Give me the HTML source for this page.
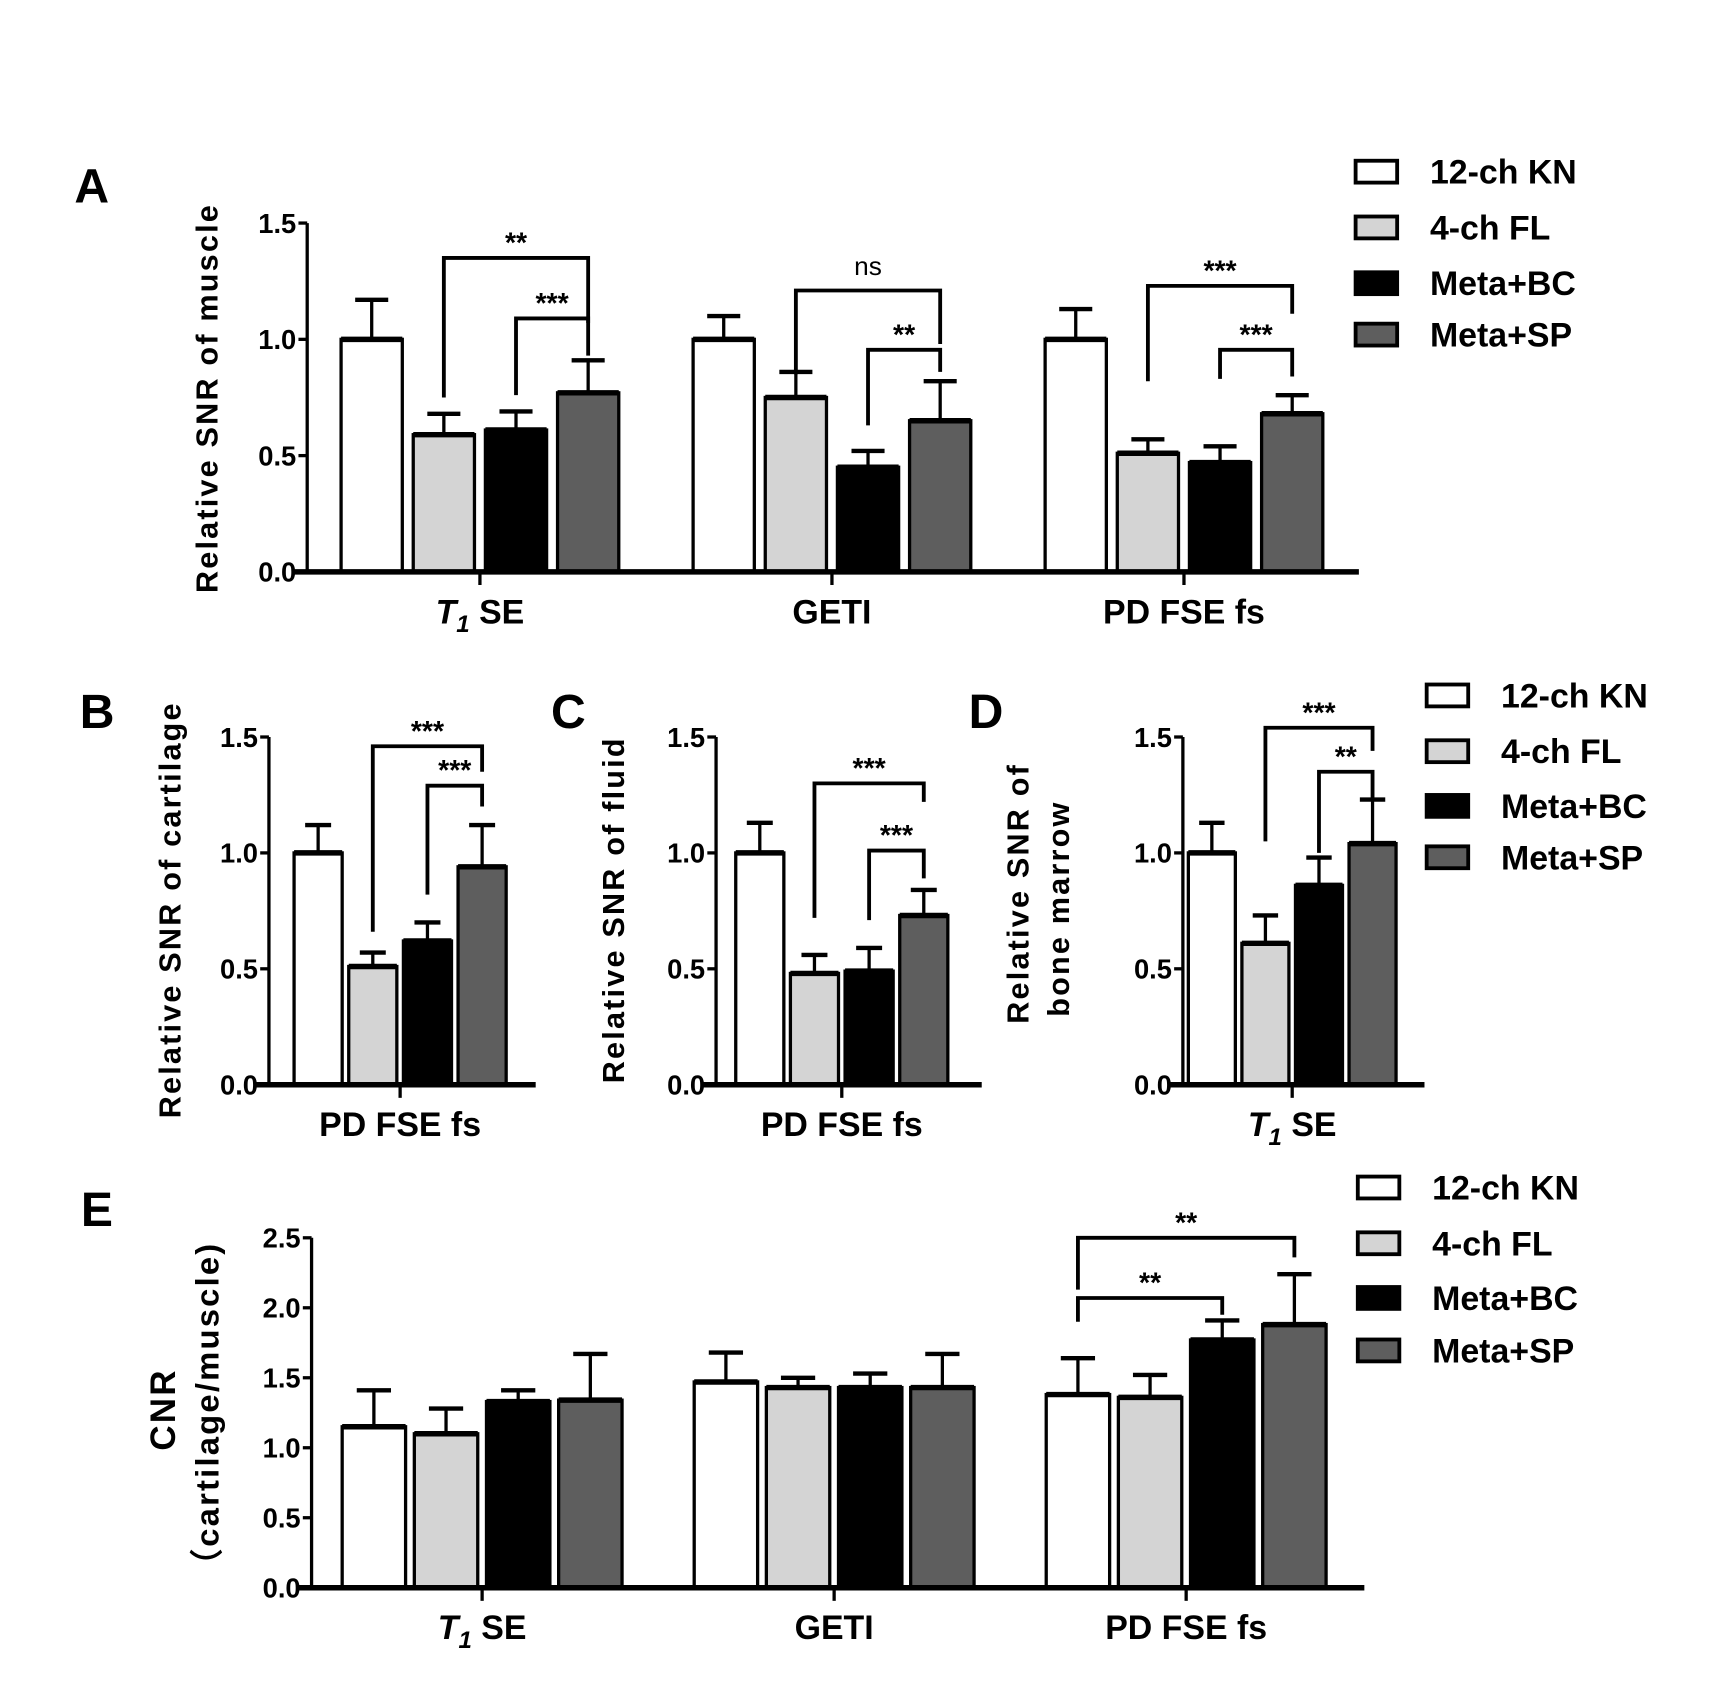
<!DOCTYPE html>
<html><head><meta charset="utf-8"><style>
html,body{margin:0;padding:0;background:#fff;}
svg{display:block;font-family:"Liberation Sans",Arial,sans-serif;font-weight:bold;}
</style></head><body>
<svg id="fig" width="1712" height="1708" viewBox="2 1 1566 1562" preserveAspectRatio="none" xmlns="http://www.w3.org/2000/svg">
<g id="root"></g>
</svg>
<script>
// ---- data ----
const seriesNames = ["12-ch KN","4-ch FL","Meta+BC","Meta+SP"];
const seriesFill = ["#ffffff","#d4d4d4","#000000","#5e5e5e"];
const groupsA = ["T1SE","GETI","PD FSE fs"];
const meanA = [[1.0,0.59,0.61,0.77],[1.0,0.75,0.45,0.65],[1.0,0.51,0.47,0.68]];
const errA = [[1.17,0.68,0.69,0.91],[1.10,0.86,0.52,0.82],[1.13,0.57,0.54,0.76]];
const brA = [[0,1,3,1.35,0.75,1.07,"**"],[0,2,3,1.09,0.76,0.93,"***"],[1,1,3,1.21,0.85,0.98,"ns"],[1,2,3,0.955,0.63,0.86,"**"],[2,1,3,1.23,0.82,1.11,"***"],[2,2,3,0.955,0.83,0.84,"***"]];
const groupsB = ["PD FSE fs"];
const meanB = [[1.0,0.51,0.62,0.94]];
const errB = [[1.12,0.57,0.70,1.12]];
const brB = [[0,1,3,1.46,0.66,1.35,"***"],[0,2,3,1.29,0.82,1.20,"***"]];
const groupsC = ["PD FSE fs"];
const meanC = [[1.0,0.48,0.49,0.73]];
const errC = [[1.13,0.56,0.59,0.84]];
const brC = [[0,1,3,1.30,0.72,1.22,"***"],[0,2,3,1.01,0.71,0.89,"***"]];
const groupsD = ["T1SE"];
const meanD = [[1.0,0.61,0.86,1.04]];
const errD = [[1.13,0.73,0.98,1.23]];
const brD = [[0,1,3,1.54,1.05,1.44,"***"],[0,2,3,1.35,1.00,1.23,"**"]];
const groupsE = ["T1SE","GETI","PD FSE fs"];
const meanE = [[1.15,1.10,1.33,1.34],[1.47,1.43,1.43,1.43],[1.38,1.36,1.77,1.88]];
const errE = [[1.41,1.28,1.41,1.67],[1.68,1.50,1.53,1.67],[1.64,1.52,1.91,2.24]];
const brE = [[2,0,3,2.5,2.13,2.36,"**"],[2,0,2,2.07,1.90,1.95,"**"]];
const ticks15 = [0.0,0.5,1.0,1.5];
const ticks25 = [0.0,0.5,1.0,1.5,2.0,2.5];

const NS="http://www.w3.org/2000/svg";
const root=document.getElementById('root');
function mk(tag,attrs,parent){const e=document.createElementNS(NS,tag);for(const k in attrs)e.setAttribute(k,attrs[k]);(parent||root).appendChild(e);return e;}

function catLabel(g,x,y,txt){
  const t=mk('text',{x:x,y:y,'text-anchor':'middle','font-size':31},g);
  
  
  if(txt==="T1SE"){
    const a=mk('tspan',{'font-style':'italic'},t);a.textContent="T";
    const b=mk('tspan',{'font-style':'italic','font-size':22,dy:8},t);b.textContent="1";
    const c=mk('tspan',{dy:-8},t);c.textContent=" SE";
  } else t.textContent=txt;
}

function panel(o){
  const g=mk('g',{});
  
  
  const yS=v=>o.y0-(v/o.ymax)*(o.y0-o.ytop);
  const xC=(gi,si)=>o.c0+gi*o.gs+(si-1.5)*o.bs;
  o.groups.forEach((gn,gi)=>{
    for(let si=0;si<4;si++){
      const x=xC(gi,si), v=o.mean[gi][si], e=o.err[gi][si];
      const eb=mk('line',{x1:x,x2:x,y1:yS(v),y2:yS(e),stroke:'#000','stroke-width':3},g);
      
      
      const cap=mk('line',{x1:x-o.bw*0.27,x2:x+o.bw*0.27,y1:yS(e),y2:yS(e),stroke:'#000','stroke-width':4},g);
      
      
      const r=mk('rect',{x:x-o.bw/2,y:yS(v),width:o.bw,height:yS(0)-yS(v),fill:seriesFill[si],stroke:'#000','stroke-width':3},g);
      
      
      const topl=mk('line',{x1:x-o.bw/2,x2:x+o.bw/2,y1:yS(v),y2:yS(v),stroke:'#000','stroke-width':5},g);
      
      
    }
    const tk=mk('line',{x1:o.c0+gi*o.gs,x2:o.c0+gi*o.gs,y1:o.y0,y2:o.y0+12,stroke:'#000','stroke-width':3},g);
    
    
    catLabel(g,o.c0+gi*o.gs,o.y0+47,gn);
  });
  const ya=mk('line',{x1:o.ax,x2:o.ax,y1:o.ytop,y2:o.y0,stroke:'#000','stroke-width':3},g);
  
  
  const xa=mk('line',{x1:o.ax-13,x2:o.xend,y1:o.y0,y2:o.y0,stroke:'#000','stroke-width':5},g);
  
  
  o.ticks.forEach(t=>{
    const l=mk('line',{x1:o.ax-8,x2:o.ax,y1:yS(t),y2:yS(t),stroke:'#000','stroke-width':3},g);
    
    
    const tx=mk('text',{x:o.ax-10,y:yS(t)+9,'text-anchor':'end','font-size':25},g);
    
    
    tx.textContent=t.toFixed(1);
  });
  o.br.forEach(b=>{
    const x1=xC(b[0],b[1]), x2=xC(b[0],b[2]), y=yS(b[3]);
    const p=mk('path',{d:`M${x1},${yS(b[4])}V${y}H${x2}V${yS(b[5])}`,fill:'none',stroke:'#000','stroke-width':3.5},g);
    
    
    const t=mk('text',{x:(x1+x2)/2,y:b[6]==="ns"?y-14:y-5,'text-anchor':'middle','font-size':b[6]==="ns"?24:26,'font-weight':b[6]==="ns"?'normal':'bold'},g);
    
    
    t.textContent=b[6];
  });
  o.ytitle.forEach(line=>{
    const t=mk('text',{x:0,y:0,'text-anchor':'middle','font-size':line[3]||28,transform:`translate(${line[1]},${line[2]}) rotate(-90)`},g);
    
    
    t.setAttribute('letter-spacing','2');
    t.textContent=line[0];
  });
  const pl=mk('text',{x:o.lab[0],y:o.lab[1],'font-size':44},g);
  
  
  pl.textContent=o.lab[2];
}

function legend(x,ys,name){
  const g=mk('g',{});
  
  
  seriesNames.forEach((n,i)=>{
    const r=mk('rect',{x:x,y:ys[i]-10,width:38,height:20,fill:seriesFill[i],stroke:'#000','stroke-width':3.5},g);
    
    
    const t=mk('text',{x:x+68,y:ys[i]+11,'font-size':31},g);
    
    
    t.textContent=n;
  });
}

panel({name:'panel-a',groups:groupsA,mean:meanA,err:errA,br:brA,ticks:ticks15,ymax:1.5,y0:524,ytop:205,ax:283,xend:1245,c0:441,gs:322,bs:66,bw:56,
  ytitle:[["Relative SNR of muscle",201,365,28]],lab:[70,186,"A"]});
panel({name:'panel-b',groups:groupsB,mean:meanB,err:errB,br:brB,ticks:ticks15,ymax:1.5,y0:993,ytop:675,ax:248,xend:492,c0:368,gs:0,bs:50,bw:44,
  ytitle:[["Relative SNR of cartilage",167,833,28]],lab:[75,667,"B"]});
panel({name:'panel-c',groups:groupsC,mean:meanC,err:errC,br:brC,ticks:ticks15,ymax:1.5,y0:993,ytop:675,ax:657,xend:900,c0:772,gs:0,bs:50,bw:44,
  ytitle:[["Relative SNR of fluid",573,833,28]],lab:[506,667,"C"]});
panel({name:'panel-d',groups:groupsD,mean:meanD,err:errD,br:brD,ticks:ticks15,ymax:1.5,y0:993,ytop:675,ax:1084,xend:1305,c0:1184,gs:0,bs:49,bw:43,
  ytitle:[["Relative SNR of",943,818,28],["bone marrow",980,832,28]],lab:[888,667,"D"]});
panel({name:'panel-e',groups:groupsE,mean:meanE,err:errE,br:brE,ticks:ticks25,ymax:2.5,y0:1453,ytop:1133,ax:287,xend:1250,c0:443,gs:322,bs:66,bw:58,
  ytitle:[["CNR",162,1290,32],["（cartilage/muscle)",202,1292,30]],lab:[76,1122,"E"]});

legend(1242,[158,209,260,307],'legend-a');
legend(1307,[637,688,738,785],'legend-bcd');
legend(1244,[1087,1138,1188,1236],'legend-e');
</script>
</body></html>
